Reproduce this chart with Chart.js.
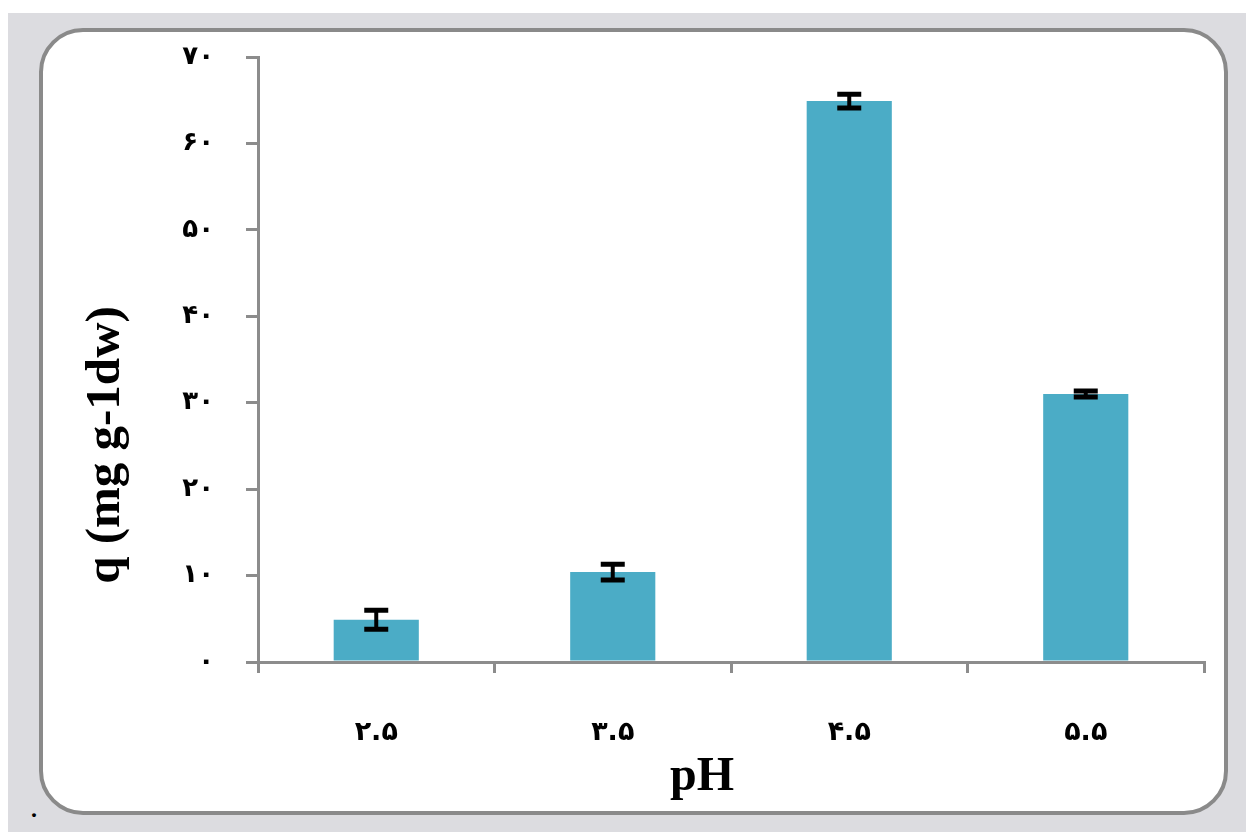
<!DOCTYPE html>
<html>
<head>
<meta charset="utf-8">
<script src="https://cdn.jsdelivr.net/npm/chart.js@4.4.1/dist/chart.umd.min.js"></script>
<style>
  html, body { margin: 0; padding: 0; background: #ffffff; width: 1246px; height: 832px; overflow: hidden; }
  #backdrop { position: absolute; left: 8px; top: 13px; width: 1238px; height: 819px; background: #dcdce0; }
  #panel { position: absolute; left: 39px; top: 28px; width: 1181px; height: 779px; background: #ffffff;
           border: 4px solid #8a8a8a; border-radius: 44px; }
  #dot { position: absolute; left: 31px; top: 796px; font: bold 24px 'Liberation Serif', serif; color: #000; }
  canvas { position: absolute; left: 0; top: 0; }
</style>
</head>
<body>
<div id="backdrop"></div>
<div id="panel"></div>
<div id="dot">.</div>
<canvas id="c" width="1246" height="832"></canvas>
<script>
// pH levels tested and the mean uptake q with its standard error
const phLabels = ['۲.۵', '۳.۵', '۴.۵', '۵.۵'];
const qValues = [4.9, 10.4, 64.9, 31.0];
const qErrors = [1.1, 0.9, 0.8, 0.35];
const yTicks = [0, 10, 20, 30, 40, 50, 60, 70];

const persianDigits = ['۰','۱','۲','۳','۴','۵','۶','۷','۸','۹'];
function toPersian(n) {
  return String(n).replace(/[0-9]/g, d => persianDigits[+d]);
}

const axisGray = '#8c8c8c';

// whiskers drawn from each bar's value and error through the y scale
const errorBars = {
  id: 'errorBars',
  afterDatasetsDraw(chart) {
    const ctx = chart.ctx;
    const y = chart.scales.y;
    const meta = chart.getDatasetMeta(0);
    ctx.save();
    ctx.strokeStyle = '#000000';
    meta.data.forEach((bar, i) => {
      const yHi = y.getPixelForValue(qValues[i] + qErrors[i]);
      const yLo = y.getPixelForValue(qValues[i] - qErrors[i]);
      const half = 12;
      ctx.lineWidth = 4;
      ctx.beginPath();
      ctx.moveTo(bar.x, yHi); ctx.lineTo(bar.x, yLo);
      ctx.stroke();
      ctx.lineWidth = 5;
      ctx.beginPath();
      ctx.moveTo(bar.x - half, yHi); ctx.lineTo(bar.x + half, yHi);
      ctx.moveTo(bar.x - half, yLo); ctx.lineTo(bar.x + half, yLo);
      ctx.stroke();
    });
    ctx.restore();
  }
};

// axis titles placed by hand
const axisTitles = {
  id: 'axisTitles',
  afterDraw(chart) {
    const ctx = chart.ctx;
    ctx.save();
    ctx.fillStyle = '#000000';
    ctx.textAlign = 'center';
    ctx.textBaseline = 'middle';
    ctx.font = 'bold 48px "Liberation Serif", serif';
    ctx.fillText('pH', 702, 778);
    ctx.translate(106, 445);
    ctx.rotate(-Math.PI / 2);
    ctx.font = 'bold 49px "Liberation Serif", serif';
    ctx.fillText('q (mg g-1dw)', 0, 0);
    ctx.restore();
  }
};

new Chart(document.getElementById('c'), {
  type: 'bar',
  data: {
    labels: phLabels,
    datasets: [{
      data: qValues,
      backgroundColor: '#4bacc6',
      borderWidth: 0,
      categoryPercentage: 1.0,
      barPercentage: 0.36
    }]
  },
  options: {
    responsive: false,
    animation: false,
    layout: { padding: { left: 0, top: 57, right: 42, bottom: 0 } },
    plugins: { legend: { display: false }, tooltip: { enabled: false } },
    scales: {
      x: {
        offset: true,
        grid: { display: true, offset: true, drawOnChartArea: false, drawTicks: true,
                tickLength: 11, color: axisGray, lineWidth: 3 },
        border: { display: true, color: axisGray, width: 3 },
        ticks: { color: '#000000', padding: 44, maxRotation: 0,
                 font: { family: 'DejaVu Sans', size: 27, weight: 'bold' } },
        afterFit(scale) { scale.height = 170; }
      },
      y: {
        min: 0,
        max: 70,
        afterBuildTicks(scale) { scale.ticks = yTicks.map(v => ({ value: v })); },
        grid: { display: true, drawOnChartArea: false, drawTicks: true,
                tickLength: 12, color: axisGray, lineWidth: 3 },
        border: { display: true, color: axisGray, width: 3 },
        ticks: { color: '#000000', padding: 32,
                 font: { family: 'DejaVu Sans', size: 26, weight: 'bold' },
                 callback: v => toPersian(v) },
        afterFit(scale) { scale.width = 258; }
      }
    }
  },
  plugins: [errorBars, axisTitles]
});
</script>
</body>
</html>
